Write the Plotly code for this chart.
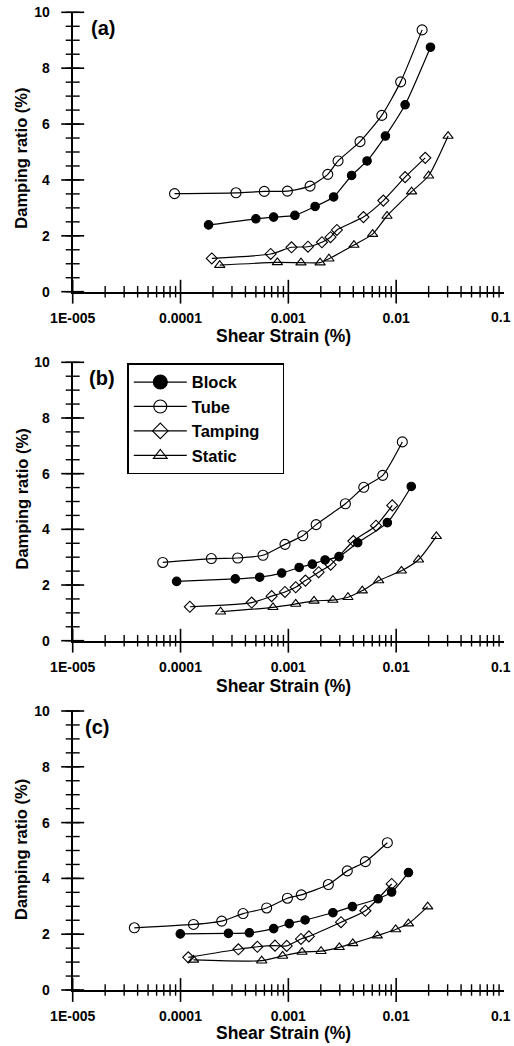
import plotly.graph_objects as go

# ---------------- data: shear strain (%) and damping ratio (%) ----------------
series_names = ["Block", "Tube", "Tamping", "Static"]
legend_names = ["Block", "Tube", "Tamping\u00a0\u00a0\u00a0\u00a0", "Static"]
panel_labels = ["(a)", "(b)", "(c)"]
x_range = [-5, -1]           # log10 of shear strain
y_range = [0, 10]
x_tick_vals = [1e-5, 1e-4, 1e-3, 1e-2, 1e-1]
x_tick_text = ["1E-005", "0.0001", "0.001", "0.01", ""]
x_last_label = "0.1"         # drawn slightly inset from the window edge, as in the original
y_tick_vals = [0, 2, 4, 6, 8, 10]

# panel (a)
a_block_strain = [1.82e-4, 5.0e-4, 7.3e-4, 1.15e-3, 1.77e-3, 2.63e-3, 3.86e-3, 5.37e-3, 7.94e-3, 1.21e-2, 2.08e-2]
a_block_damping = [2.39, 2.61, 2.67, 2.73, 3.05, 3.39, 4.16, 4.68, 5.57, 6.69, 8.75]
a_tube_strain = [8.8e-5, 3.27e-4, 5.98e-4, 9.8e-4, 1.59e-3, 2.32e-3, 2.89e-3, 4.62e-3, 7.35e-3, 1.10e-2, 1.74e-2]
a_tube_damping = [3.51, 3.54, 3.59, 3.60, 3.78, 4.20, 4.68, 5.37, 6.31, 7.51, 9.37]
a_tamping_strain = [1.95e-4, 6.86e-4, 1.07e-3, 1.52e-3, 2.05e-3, 2.46e-3, 2.82e-3, 4.97e-3, 7.60e-3, 1.21e-2, 1.86e-2]
a_tamping_damping = [1.19, 1.35, 1.59, 1.61, 1.77, 1.95, 2.21, 2.67, 3.26, 4.10, 4.79]
a_static_strain = [2.31e-4, 7.91e-4, 1.31e-3, 1.97e-3, 2.38e-3, 4.06e-3, 6.05e-3, 8.22e-3, 1.39e-2, 2.00e-2, 3.03e-2]
a_static_damping = [0.95, 1.05, 1.04, 1.04, 1.18, 1.67, 2.06, 2.71, 3.58, 4.15, 5.57]

# panel (b)
b_block_strain = [9.2e-5, 3.22e-4, 5.42e-4, 8.67e-4, 1.26e-3, 1.67e-3, 2.19e-3, 2.95e-3, 4.40e-3, 8.28e-3, 1.38e-2]
b_block_damping = [2.13, 2.22, 2.28, 2.43, 2.63, 2.75, 2.90, 3.02, 3.52, 4.24, 5.54]
b_tube_strain = [6.84e-5, 1.93e-4, 3.39e-4, 5.82e-4, 9.31e-4, 1.36e-3, 1.81e-3, 3.38e-3, 5.00e-3, 7.50e-3, 1.14e-2]
b_tube_damping = [2.81, 2.95, 2.97, 3.07, 3.46, 3.77, 4.17, 4.92, 5.51, 5.94, 7.14]
b_tamping_strain = [1.22e-4, 4.57e-4, 7.0e-4, 9.3e-4, 1.17e-3, 1.44e-3, 1.91e-3, 2.47e-3, 4.01e-3, 6.50e-3, 9.2e-3]
b_tamping_damping = [1.22, 1.37, 1.60, 1.75, 1.92, 2.16, 2.46, 2.73, 3.58, 4.13, 4.86]
b_static_strain = [2.35e-4, 7.21e-4, 1.17e-3, 1.73e-3, 2.59e-3, 3.57e-3, 4.85e-3, 6.89e-3, 1.12e-2, 1.61e-2, 2.36e-2]
b_static_damping = [1.04, 1.20, 1.32, 1.43, 1.46, 1.56, 1.80, 2.16, 2.51, 2.91, 3.75]

# panel (c)
c_block_strain = [9.95e-5, 2.78e-4, 4.35e-4, 7.31e-4, 1.02e-3, 1.43e-3, 2.59e-3, 3.93e-3, 6.79e-3, 9.08e-3, 1.30e-2]
c_block_damping = [2.01, 2.03, 2.05, 2.20, 2.38, 2.51, 2.77, 2.99, 3.27, 3.51, 4.21]
c_tube_strain = [3.73e-5, 1.32e-4, 2.41e-4, 3.80e-4, 6.29e-4, 9.80e-4, 1.32e-3, 2.35e-3, 3.52e-3, 5.18e-3, 8.28e-3]
c_tube_damping = [2.23, 2.35, 2.47, 2.74, 2.94, 3.29, 3.41, 3.78, 4.27, 4.60, 5.28]
c_tamping_strain = [1.18e-4, 3.44e-4, 5.16e-4, 7.52e-4, 9.66e-4, 1.31e-3, 1.55e-3, 3.08e-3, 5.18e-3, 9.08e-3]
c_tamping_damping = [1.17, 1.46, 1.55, 1.59, 1.58, 1.83, 1.92, 2.43, 2.84, 3.80]
c_static_strain = [1.32e-4, 5.66e-4, 8.85e-4, 1.34e-3, 2.01e-3, 2.97e-3, 3.96e-3, 6.68e-3, 9.89e-3, 1.30e-2, 1.96e-2]
c_static_damping = [1.08, 1.05, 1.22, 1.36, 1.39, 1.53, 1.67, 1.95, 2.17, 2.38, 2.99]

panels = [
    [(a_block_strain, a_block_damping), (a_tube_strain, a_tube_damping),
     (a_tamping_strain, a_tamping_damping), (a_static_strain, a_static_damping)],
    [(b_block_strain, b_block_damping), (b_tube_strain, b_tube_damping),
     (b_tamping_strain, b_tamping_damping), (b_static_strain, b_static_damping)],
    [(c_block_strain, c_block_damping), (c_tube_strain, c_tube_damping),
     (c_tamping_strain, c_tamping_damping), (c_static_strain, c_static_damping)],
]

# tick positions (axis decoration)
x_minor_vals = [m * 10.0 ** e for e in range(x_range[0], x_range[1]) for m in range(2, 10)]
y_minor_vals = [k * 0.5 for k in range(2 * y_range[1] + 1)]

# ---------------- styles / layout ----------------
FW, FH = 514, 1046
FONT = "Liberation Sans, Arial, sans-serif"
symbols = ["circle", "circle-open", "diamond-open", "triangle-up-open"]
sizes = [8.5, 10, 8.5, 9]
legend_sizes = [14, 13, 12, 12]


def px2x(p):
    return p / FW


def py2y(p):
    return 1 - p / FH


x_dom = [px2x(72.7), px2x(504)]
panel_px = [(12.3, 291.7), (362.3, 640.7), (711.0, 990.0)]  # top, bottom of plot areas
label_px = [89.3, 86.7, 83.3]
ytitle_px = [158.7, 499.5, 850.0]
xtitle_px = [336.0, 686.0, 1033.0]

fig = go.Figure()

for i, panel in enumerate(panels):
    xa = "x" if i == 0 else f"x{i+1}"
    ya = "y" if i == 0 else f"y{i+1}"
    x_axis_pos = 10.0 ** x_range[0]
    y_axis_pos = y_range[0]
    # crossing tick marks, placed on the axes through the axes' own scales
    tick_sets = [
        (x_tick_vals, [y_axis_pos] * len(x_tick_vals), "line-ns", 17, 1.6),
        (x_minor_vals, [y_axis_pos] * len(x_minor_vals), "line-ns", 8.2, 1.4),
        ([x_axis_pos] * len(y_tick_vals), y_tick_vals, "line-ew", 16.4, 1.6),
        ([x_axis_pos] * len(y_minor_vals), y_minor_vals, "line-ew", 10, 1.4),
    ]
    for tx, ty, sym, sz, lw in tick_sets:
        fig.add_trace(go.Scatter(
            x=tx, y=ty, xaxis=xa, yaxis=ya, mode="markers", showlegend=False,
            hoverinfo="skip", cliponaxis=False,
            marker=dict(symbol=sym, size=sz, color="black",
                        line=dict(color="black", width=lw)),
        ))
    for k, (sx, sy) in enumerate(panel):
        fig.add_trace(go.Scatter(
            x=sx, y=sy, xaxis=xa, yaxis=ya, mode="lines+markers",
            name=series_names[k], showlegend=False, cliponaxis=False,
            line=dict(color="black", width=1.2, shape="spline", smoothing=0.6),
            marker=dict(symbol=symbols[k], size=sizes[k], color="black",
                        line=dict(color="black", width=1.1)),
        ))

# legend entries (no data, larger symbols as in the original legend)
for k, name in enumerate(legend_names):
    fig.add_trace(go.Scatter(
        x=[None], y=[None], xaxis="x2", yaxis="y2", mode="lines+markers", name=name,
        line=dict(color="black", width=1.2),
        marker=dict(symbol=symbols[k], size=legend_sizes[k], color="black",
                    line=dict(color="black", width=1.1)),
    ))

layout = dict(
    template="none",
    width=FW, height=FH, autosize=False,
    margin=dict(l=0, r=0, t=0, b=0, pad=0),
    paper_bgcolor="white", plot_bgcolor="white",
    font=dict(family=FONT, color="black", weight="bold"),
    showlegend=True,
    legend=dict(x=px2x(127.3), y=py2y(363.3), xanchor="left", yanchor="top",
                bgcolor="white", bordercolor="black", borderwidth=1.5,
                font=dict(family=FONT, size=16.5, color="black", weight="bold"),
                itemwidth=53, tracegroupgap=0),
)

annotations = []
for i in range(3):
    top, bot = panel_px[i]
    ydom = [py2y(bot), py2y(top)]
    xs = "" if i == 0 else str(i + 1)
    ys = "" if i == 0 else str(i + 1)
    layout["xaxis" + xs] = dict(
        type="log", range=x_range, autorange=False, domain=x_dom, anchor="y" + ys,
        showgrid=False, zeroline=False, automargin=False,
        showline=True, linecolor="black", linewidth=2,
        tickmode="array", tickvals=x_tick_vals, ticktext=x_tick_text,
        ticks="outside", ticklen=12, tickwidth=1, tickcolor="rgba(0,0,0,0)",
        ticklabeloverflow="allow",
        tickfont=dict(family=FONT, size=14, color="black", weight="bold"),
    )
    layout["yaxis" + ys] = dict(
        range=y_range, autorange=False, domain=ydom, anchor="x" + xs,
        showgrid=False, zeroline=False, automargin=False,
        showline=True, linecolor="black", linewidth=2,
        tickmode="array", tickvals=y_tick_vals,
        ticks="outside", ticklen=11, tickwidth=1, tickcolor="rgba(0,0,0,0)",
        ticklabelstandoff=7, ticklabeloverflow="allow",
        tickfont=dict(family=FONT, size=14, color="black", weight="bold"),
    )
    annotations.append(dict(
        text=x_last_label, xref="paper", yref="paper",
        x=px2x(500.8), y=py2y(bot + 25.8), xanchor="center", yanchor="middle",
        showarrow=False, font=dict(family=FONT, size=14, color="black", weight="bold"),
    ))
    annotations.append(dict(
        text=panel_labels[i], xref="paper", yref="paper",
        x=px2x(label_px[i]), y=py2y(top + 16), xanchor="left", yanchor="middle",
        showarrow=False, font=dict(family=FONT, size=20, color="black", weight="bold"),
    ))
    annotations.append(dict(
        text="Damping ratio (%)", xref="paper", yref="paper",
        x=px2x(21), y=py2y(ytitle_px[i]), xanchor="center", yanchor="middle",
        textangle=-90, showarrow=False,
        font=dict(family=FONT, size=16.5, color="black", weight="bold"),
    ))
    annotations.append(dict(
        text="Shear Strain (%)", xref="paper", yref="paper",
        x=px2x(283), y=py2y(xtitle_px[i]), xanchor="center", yanchor="middle",
        showarrow=False,
        font=dict(family=FONT, size=17.5, color="black", weight="bold"),
    ))

layout["annotations"] = annotations
fig.update_layout(**layout)

# remove the default 8px page margin so the figure fills the window exactly
fig.write_html("out.html", config={"displayModeBar": False},
               post_script="document.body.style.margin='0px';")
